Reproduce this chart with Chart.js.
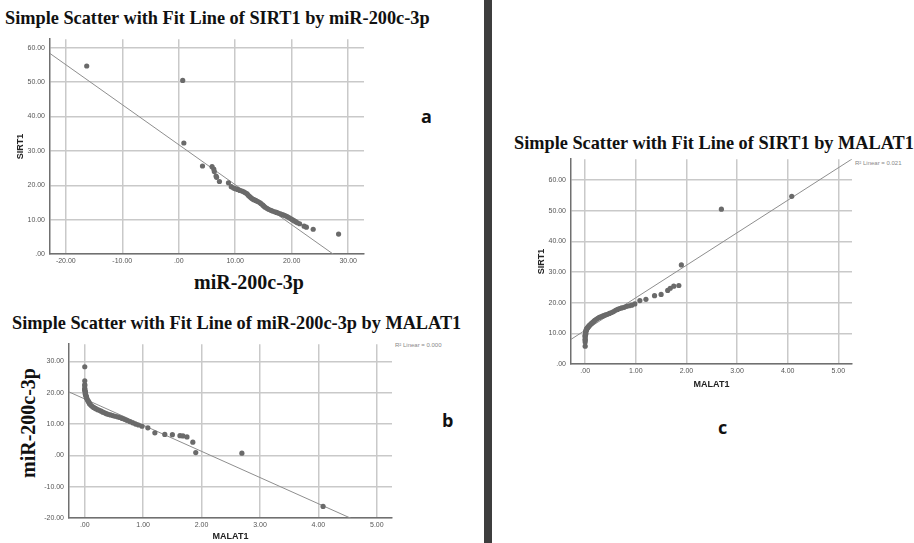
<!DOCTYPE html>
<html>
<head>
<meta charset="utf-8">
<script src="https://cdn.jsdelivr.net/npm/chart.js@4.4.1/dist/chart.umd.min.js"></script>
<style>
body { margin:0; width:914px; height:543px; background:#fff; position:relative; overflow:hidden; font-family:"Liberation Sans", Arial, sans-serif; }
canvas { position:absolute; }
.ttl { position:absolute; font-family:"Liberation Serif", serif; font-weight:bold; font-size:18.3px; line-height:1; white-space:nowrap; color:#111; }
.big { position:absolute; font-family:"Liberation Serif", serif; font-weight:bold; font-size:20px; line-height:1; white-space:nowrap; color:#111; }
.tag { position:absolute; font-family:"Open Sans", sans-serif; font-weight:bold; font-size:18px; line-height:1; color:#111; }
.r2 { position:absolute; font-size:6px; line-height:1; color:#888; white-space:nowrap; }
#divider { position:absolute; left:484px; top:0; width:8px; height:543px; background:#3d3d3d; }
</style>
</head>
<body>
<div class="ttl" style="left:5px;top:9px">Simple Scatter with Fit Line of SIRT1 by miR-200c-3p</div>
<div class="ttl" style="left:12px;top:314px">Simple Scatter with Fit Line of miR-200c-3p by MALAT1</div>
<div class="ttl" style="left:514px;top:134px">Simple Scatter with Fit Line of SIRT1 by MALAT1</div>
<div class="big" style="left:194px;top:272px">miR-200c-3p</div>
<div class="big" style="left:28px;top:423px;transform:translate(-50%,-50%) rotate(-90deg)">miR-200c-3p</div>
<div class="tag" style="left:421px;top:107px">a</div>
<div class="tag" style="left:442px;top:411px">b</div>
<div class="tag" style="left:718px;top:418px">c</div>
<div class="r2" style="left:395px;top:342px">R² Linear = 0.000</div>
<div class="r2" style="left:855px;top:160px">R² Linear = 0.021</div>
<div id="divider"></div>

<canvas id="chartA" width="380" height="240" style="left:0;top:30px"></canvas>
<canvas id="chartB" width="400" height="208" style="left:0;top:335px"></canvas>
<canvas id="chartC" width="360" height="245" style="left:500px;top:150px"></canvas>

<script>
// one value per sample, same order in all three arrays
var malat1 = [0.00, 0.00, 0.00, 0.00, 0.00, 0.00, 0.00, 0.01, 0.01, 0.01,
              0.01, 0.02, 0.02, 0.03, 0.03, 0.04, 0.05, 0.06, 0.07, 0.08,
              0.09, 0.11, 0.13, 0.15, 0.17, 0.19, 0.22, 0.25, 0.28, 0.31,
              0.34, 0.37, 0.40, 0.44, 0.48, 0.52, 0.56, 0.60, 0.64, 0.68,
              0.72, 0.77, 0.82, 0.87, 0.92, 0.98, 1.08, 1.20, 1.37, 1.50,
              1.63, 1.68, 1.75, 1.85, 1.90, 2.69, 4.08];
var sirt1 = [5.8, 7.2, 7.8, 8.1, 8.8, 9.1, 9.4, 9.7, 10.0, 10.3,
             10.6, 10.9, 11.1, 11.3, 11.5, 11.7, 11.9, 12.1, 12.3, 12.5,
             12.7, 13.0, 13.3, 13.6, 13.9, 14.2, 14.6, 14.9, 15.2, 15.4,
             15.6, 15.8, 16.0, 16.2, 16.5, 16.8, 17.1, 17.5, 17.8, 18.1,
             18.3, 18.5, 18.8, 19.0, 19.2, 19.6, 20.7, 21.1, 22.3, 22.7,
             24.0, 24.7, 25.4, 25.6, 32.3, 50.5, 54.7];
var mir200c = [28.3, 23.8, 22.6, 22.2, 21.4, 21.0, 20.7, 20.4, 20.1, 19.8,
               19.5, 19.2, 18.9, 18.6, 18.3, 18.0, 17.6, 17.3, 17.0, 16.6,
               16.3, 15.9, 15.6, 15.3, 15.1, 14.9, 14.6, 14.4, 14.1, 13.8,
               13.6, 13.3, 13.1, 12.9, 12.7, 12.5, 12.3, 12.1, 11.8, 11.5,
               11.2, 10.8, 10.4, 10.0, 9.7, 9.3, 8.8, 7.2, 6.7, 6.6,
               6.3, 6.2, 5.9, 4.2, 0.9, 0.7, -16.3];

// fit lines: [intercept, slope]
var fitA = [31.8, -1.164];
var fitB = [18.0, -8.36];
var fitC = [11.0, 10.6];

// tick values
var ticksMir = [-20, -10, 0, 10, 20, 30];
var ticksMalat = [0, 1, 2, 3, 4, 5];
var ticksSirt = [0, 10, 20, 30, 40, 50, 60];
var ticksMirY = [-20, -10, 0, 10, 20, 30];

function spss(v) {
    return v.toFixed(2).replace(/^(-?)0\./, '$1.');
}

function pairs(xs, ys) {
    var out = [];
    for (var i = 0; i < xs.length; i++) out.push({x: xs[i], y: ys[i]});
    return out;
}

function makeChart(id, pts, fit, xr, yr, xTicks, yTicks, lay) {
    var fitPts = [
        {x: xr[0], y: fit[0] + fit[1] * xr[0]},
        {x: xr[1], y: fit[0] + fit[1] * xr[1]}
    ];
    var tickFont = {family: 'Liberation Sans', size: 7};
    var titleFont = {family: 'Liberation Sans', size: 9, weight: 'bold'};
    return new Chart(document.getElementById(id), {
        type: 'scatter',
        data: {
            datasets: [{
                data: pts,
                backgroundColor: '#6a6a6a',
                borderWidth: 0,
                pointRadius: 2.6,
                order: 1
            }, {
                type: 'line',
                data: fitPts,
                borderColor: '#8e8e8e',
                borderWidth: 1,
                pointRadius: 0,
                fill: false,
                order: 2
            }]
        },
        options: {
            responsive: false,
            animation: false,
            devicePixelRatio: 1,
            events: [],
            layout: {padding: lay.pad},
            plugins: {legend: {display: false}, tooltip: {enabled: false}},
            scales: {
                x: {
                    type: 'linear',
                    min: xr[0], max: xr[1],
                    afterBuildTicks: function(s) { s.ticks = xTicks.map(function(v) { return {value: v}; }); },
                    afterFit: function(s) { s.height = lay.xh; },
                    ticks: {callback: spss, font: tickFont, color: '#555', padding: 3, maxRotation: 0, autoSkip: false},
                    grid: {color: '#c9c9c9', lineWidth: 1.5, drawTicks: false},
                    border: {color: '#707070', width: 1.5},
                    title: lay.xTitle ? {display: true, text: lay.xTitle, font: titleFont, color: '#222', padding: {top: 0, bottom: lay.xTitlePad}} : {display: false}
                },
                y: {
                    type: 'linear',
                    min: yr[0], max: yr[1],
                    afterBuildTicks: function(s) { s.ticks = yTicks.map(function(v) { return {value: v}; }); },
                    afterFit: function(s) { s.width = lay.yw; },
                    ticks: {callback: spss, font: tickFont, color: '#555', padding: 5, autoSkip: false},
                    grid: {color: '#c9c9c9', lineWidth: 1.5, drawTicks: false},
                    border: {color: '#707070', width: 1.5},
                    title: lay.yTitle ? {display: true, text: lay.yTitle, font: titleFont, color: '#222', padding: {top: lay.yTitlePad, bottom: 0}} : {display: false}
                }
            }
        }
    });
}

makeChart('chartA', pairs(mir200c, sirt1), fitA, [-22.8, 32.8], [0, 62.5], ticksMir, ticksSirt,
    {pad: {left: 0, top: 3, right: 16, bottom: 0}, yw: 50, xh: 16, yTitle: 'SIRT1', yTitlePad: 15});

makeChart('chartB', pairs(malat1, mir200c), fitB, [-0.27, 5.26], [-20, 35.5], ticksMalat, ticksMirY,
    {pad: {left: 0, top: 5, right: 8, bottom: 0}, yw: 69, xh: 25, xTitle: 'MALAT1', xTitlePad: 1});

makeChart('chartC', pairs(malat1, sirt1), fitC, [-0.28, 5.27], [0, 66.8], ticksMalat, ticksSirt,
    {pad: {left: 0, top: 8, right: 8, bottom: 0}, yw: 71, xh: 31, xTitle: 'MALAT1', xTitlePad: 5, yTitle: 'SIRT1', yTitlePad: 36});
</script>
</body>
</html>
